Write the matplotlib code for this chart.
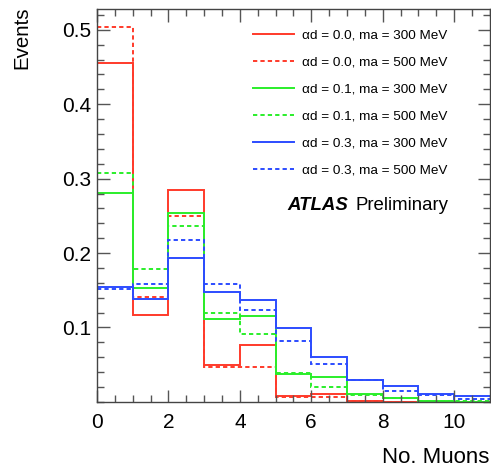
import numpy as np
import matplotlib
matplotlib.use('Agg')
import matplotlib.pyplot as plt
from matplotlib.ticker import MultipleLocator
from matplotlib.lines import Line2D

plt.rcParams['font.family'] = ['Liberation Sans', 'DejaVu Sans']

edges = np.arange(0, 12)

# fractions of events per muon multiplicity bin
red_300 = [0.455, 0.117, 0.285, 0.049, 0.076, 0.008, 0.010, 0.001, 0.0, 0.0, 0.0]
red_500 = [0.504, 0.141, 0.250, 0.047, 0.047, 0.006, 0.006, 0.001, 0.0, 0.0, 0.0]
green_300 = [0.281, 0.153, 0.254, 0.111, 0.115, 0.038, 0.033, 0.011, 0.005, 0.001, 0.0]
green_500 = [0.307, 0.179, 0.236, 0.120, 0.091, 0.039, 0.020, 0.009, 0.005, 0.001, 0.001]
blue_300 = [0.155, 0.138, 0.193, 0.148, 0.137, 0.099, 0.061, 0.029, 0.021, 0.011, 0.008]
blue_500 = [0.152, 0.159, 0.217, 0.158, 0.123, 0.082, 0.051, 0.029, 0.015, 0.009, 0.004]

labels = ['\u03b1d = 0.0, ma = 300 MeV', '\u03b1d = 0.0, ma = 500 MeV',
          '\u03b1d = 0.1, ma = 300 MeV', '\u03b1d = 0.1, ma = 500 MeV',
          '\u03b1d = 0.3, ma = 300 MeV', '\u03b1d = 0.3, ma = 500 MeV']

red = '#ff3a2a'
green = '#2aee2a'
blue = '#2c4cff'
dash = (0, (2.2, 1.6))

series = [(red_300, red, '-'), (red_500, red, dash),
          (green_300, green, '-'), (green_500, green, dash),
          (blue_300, blue, '-'), (blue_500, blue, dash)]

fig = plt.figure(figsize=(4.91, 4.69), dpi=100)
ax = fig.add_axes([0.1976, 0.143, 0.800, 0.838])

handles = []
for vals, c, ls in series:
    ax.stairs(vals, edges, color=c, linestyle=ls, linewidth=1.4, baseline=None)
    handles.append(Line2D([], [], color=c, linestyle=ls, linewidth=1.4))

ax.set_xlim(0, 11)
ax.set_ylim(0, 0.528)

ax.xaxis.set_major_locator(MultipleLocator(2))
ax.xaxis.set_minor_locator(MultipleLocator(0.5))
ax.yaxis.set_major_locator(MultipleLocator(0.1))
ax.yaxis.set_minor_locator(MultipleLocator(0.02))
ax.tick_params(which='both', direction='in', top=True, right=True, color='#555555', labelsize=15)
ax.tick_params(which='major', length=9, width=1)
ax.tick_params(which='minor', length=5, width=1)
ax.tick_params(axis='y', pad=4)
ax.tick_params(axis='x', pad=8)
ax.set_yticks([0.1, 0.2, 0.3, 0.4, 0.5])
ax.set_yticklabels(['0.1', '0.2', '0.3', '0.4', '0.5'])
for s in ax.spines.values():
    s.set_color('#444444')
    s.set_linewidth(1.0)

fig.text(0.026, 0.986, 'Events', rotation=90, ha='left', va='top', fontsize=14.8)
fig.text(0.997, 0.002, 'No. Muons', ha='right', va='bottom', fontsize=16)

ax.legend(handles, labels, loc='upper left', bbox_to_anchor=(0.384, 0.962),
          frameon=False, fontsize=9.7, handlelength=3.0, handletextpad=0.65,
          labelspacing=1.08, borderaxespad=0)

ax.text(0.484, 0.501, 'ATLAS', transform=ax.transAxes, fontsize=13.4,
        fontweight='bold', fontstyle='italic', ha='left', va='center')
ax.text(0.657, 0.501, 'Preliminary', transform=ax.transAxes, fontsize=13.4,
        ha='left', va='center')

fig.savefig('out.png', dpi=100)
